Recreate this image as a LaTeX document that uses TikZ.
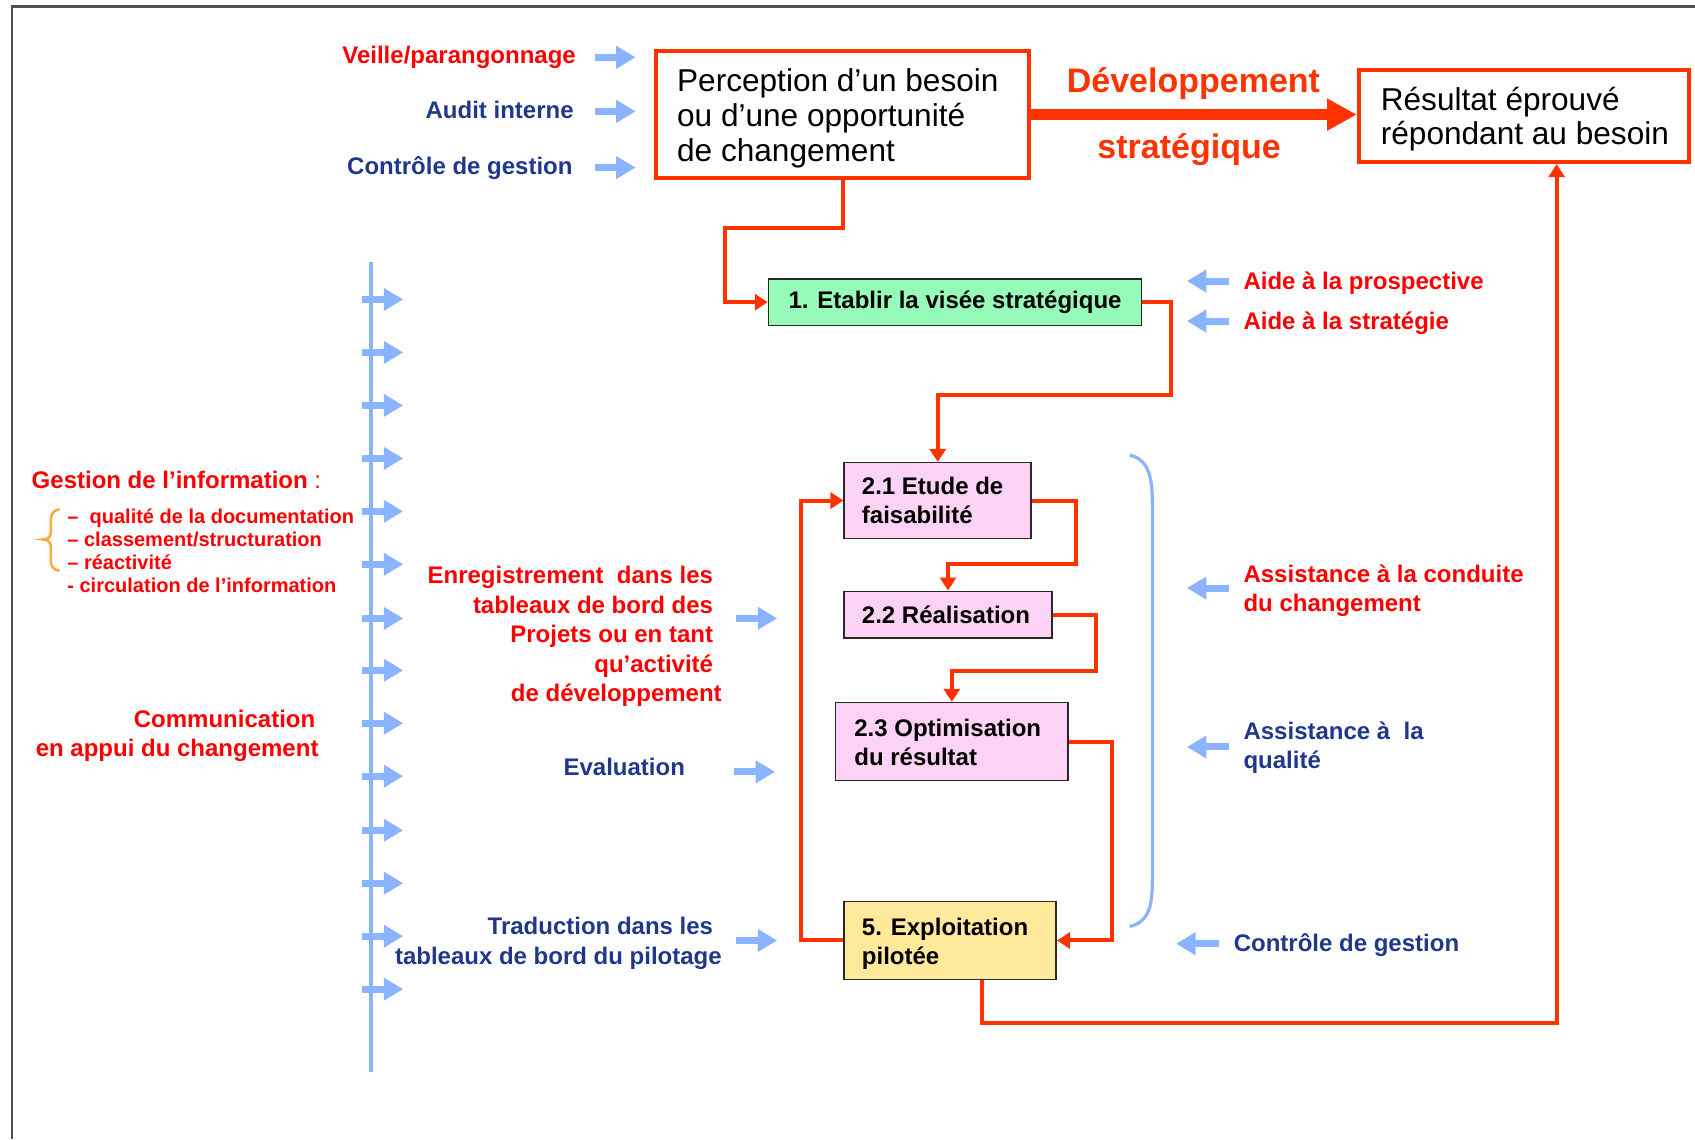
\documentclass[tikz,border=0pt]{standalone}
\usepackage{fontspec}
\setmainfont{Liberation Sans}
\usetikzlibrary{arrows.meta,calc}
\newdimen\dispu \dispu=0.5405pt
\definecolor{txtred}{RGB}{255,0,0}
\definecolor{connred}{RGB}{255,51,0}
\definecolor{navy}{RGB}{32,56,140}
\definecolor{lblue}{RGB}{138,180,255}
\definecolor{boxgreen}{RGB}{150,250,185}
\definecolor{boxpink}{RGB}{252,210,245}
\definecolor{boxyellow}{RGB}{255,233,155}
\definecolor{braceorange}{RGB}{255,170,60}
\definecolor{framegray}{RGB}{80,80,80}
\definecolor{boxedge}{RGB}{40,40,40}
\begin{document}
\begin{tikzpicture}[x=0.5405pt,y=-0.5405pt,
  lbl/.style={font=\fontsize{12}{14.7}\selectfont\bfseries, inner sep=0pt},
  redlbl/.style={lbl, text=txtred},
  navylbl/.style={lbl, text=navy},
  bigbox/.style={draw=connred, line width=2pt, rectangle, inner sep=0pt},
  bigtxt/.style={font=\fontsize{15.8}{17.3}\selectfont, align=left, inner sep=0pt, anchor=base west},
  stepbox/.style={draw=boxedge, line width=0.8pt, rectangle, inner sep=0pt},
  steptxt/.style={font=\fontsize{12}{14.6}\selectfont\bfseries, align=left, inner sep=0pt, anchor=base west},
  redline/.style={draw=connred, line width=2pt},
  redarr/.style={redline, -{Triangle[length=6.5pt,width=8pt]}},
  bluearr/.style={draw=lblue, line width=3.5pt, -{Triangle[length=9.7pt,width=10.8pt]}},
]
\useasboundingbox (0,0) rectangle (1568,1054);
% frame
\draw[framegray, line width=1.2pt] (11,1054) -- (11,6) -- (1568,6);

% top boxes (multi-line nodes: base anchor = last line baseline)
\node[bigbox, minimum width=345\dispu, minimum height=118\dispu] (perc) at (779.5,106) {};
\node[bigtxt] (perct) at (626,149) {Perception d’un besoin\\ou d’une opportunité\\de changement};
\node[bigbox, minimum width=305\dispu, minimum height=85\dispu] (res) at (1409.5,107.5) {};
\node[bigtxt] (rest) at (1277,134) {Résultat éprouvé\\répondant au besoin};

% big arrow
\draw[draw=connred, line width=5.4pt, -{Triangle[length=14.8pt,width=15pt]}] (perc.east) -- (res.west |- perc.east);
\node[font=\fontsize{17}{20}\selectfont\bfseries, text=connred, inner sep=0pt, anchor=base] (dev) at (1104,86) {Développement};
\node[font=\fontsize{17}{20}\selectfont\bfseries, text=connred, inner sep=0pt, anchor=base] (strat) at (1100,147) {stratégique};

% step boxes
\node[stepbox, fill=boxgreen, minimum width=345\dispu, minimum height=43\dispu, font=\fontsize{12}{14.6}\selectfont\bfseries] (b1) at (883.5,279.5) {1. Etablir la visée stratégique};
\node[stepbox, fill=boxpink, minimum width=173\dispu, minimum height=70\dispu] (b21) at (867.5,463) {};
\node[steptxt] (b21t) at (797,484) {2.1 Etude de\\faisabilité};
\node[stepbox, fill=boxpink, minimum width=192\dispu, minimum height=43\dispu] (b22) at (877,568.5) {};
\node[steptxt] (b22t) at (797,577) {2.2 Réalisation};
\node[stepbox, fill=boxpink, minimum width=215\dispu, minimum height=72\dispu] (b23) at (880.5,686) {};
\node[steptxt] (b23t) at (790,708) {2.3 Optimisation\\du résultat};
\node[stepbox, fill=boxyellow, minimum width=196\dispu, minimum height=72\dispu] (b5) at (879,870) {};
\node[steptxt] (b5t) at (797,892) {5. Exploitation\\pilotée};

% red connectors
\draw[redarr] (perc.south) |- (671,211) |- (b1.west);
\draw[redarr] (b1.east) -| (1083,365) -| (b21.north);
\draw[redarr] (b21.east) -| (995,522) -| (b22.north);
\draw[redarr] (b22.east) -| (1014,621) -| (b23.north);
\draw[redarr] (b23.east) -| (1029,870) -- (b5.east);
\draw[redarr] (b5.west) -| (741,463) -- (b21.west);
\draw[redarr] ([xshift=29\dispu]b5.south) -- ++(0,40) -| ([xshift=30.5\dispu]res.south);

% top-left labels
\node[redlbl, anchor=base east] (veille) at (533,59) {Veille/parangonnage};
\node[navylbl, anchor=base east] (audit) at (531,110) {Audit interne};
\node[navylbl, anchor=base east] (ctrla) at (530,161) {Contrôle de gestion};
\draw[bluearr] (550,53) -- (588,53);
\draw[bluearr] (550,103) -- (588,103);
\draw[bluearr] (550,155) -- (588,155);

% right labels
\node[redlbl, anchor=base west] (aidea) at (1150,268) {Aide à la prospective};
\node[redlbl, anchor=base west] (aideb) at (1150,305) {Aide à la stratégie};
\draw[bluearr] (1137,260) -- (1098,260);
\draw[bluearr] (1137,297) -- (1098,297);
\node[redlbl, anchor=base west, align=left] (assista) at (1150,566) {Assistance à la conduite\\du changement};
\draw[bluearr] (1137,544) -- (1098,544);
\node[navylbl, anchor=base west, align=left] (assistb) at (1150,711) {Assistance à\ \ la\\qualité};
\draw[bluearr] (1137,691) -- (1098,691);
\node[navylbl, anchor=base west] (ctrlb) at (1141,880) {Contrôle de gestion};
\draw[bluearr] (1128,873) -- (1088,873);

% blue brace
\draw[lblue, line width=1.6pt] (1045,421) .. controls (1062,425) and (1066,440) .. (1066,465) -- (1066,815) .. controls (1066,840) and (1062,853) .. (1045,857);

% middle labels
\node[redlbl, anchor=base east, align=right] (enr) at (660,649) {Enregistrement\ \ dans les\\tableaux de bord des\\Projets ou en tant\\qu’activité\\de développement\hspace*{-8\dispu}};
\draw[bluearr] (681,572) -- (719,572);
\node[navylbl, anchor=base east] (eval) at (634,717) {Evaluation};
\draw[bluearr] (679,714) -- (717,714);
\node[navylbl, anchor=base east, align=right] (trad) at (660,892) {Traduction dans les\\tableaux de bord du pilotage\hspace*{-8\dispu}};
\draw[bluearr] (681,870) -- (719,870);

% left column
\draw[lblue, line width=2.2pt] (343,242) -- (343,992);
\foreach \yy in {277,326,375,424,473,522,572,620,669,718,768,817,866,915}
  \draw[bluearr] (335,\yy) -- (373,\yy);

% left texts
\node[redlbl, anchor=base west] (gest) at (29,452) {Gestion de l’information {\mdseries :}};
\draw[braceorange, line width=1.3pt] (55,471) .. controls (49,472) and (47,476) .. (47,482) -- (47,492) .. controls (47,497) and (44,499) .. (40,499) .. controls (44,499) and (47,501) .. (47,506) -- (47,518) .. controls (47,524) and (49,527) .. (55,528);
\node[text=txtred, font=\fontsize{10}{11.5}\selectfont\bfseries, inner sep=0pt, anchor=base west, align=left] (liste) at (62,548) {–\ \ qualité de la documentation\\– classement/structuration\\– réactivité\\- circulation de l’information};
\node[redlbl, anchor=base east, align=right] (comm) at (295,700) {Communication\hspace*{3\dispu}\\en appui du changement};
\end{tikzpicture}
\end{document}
